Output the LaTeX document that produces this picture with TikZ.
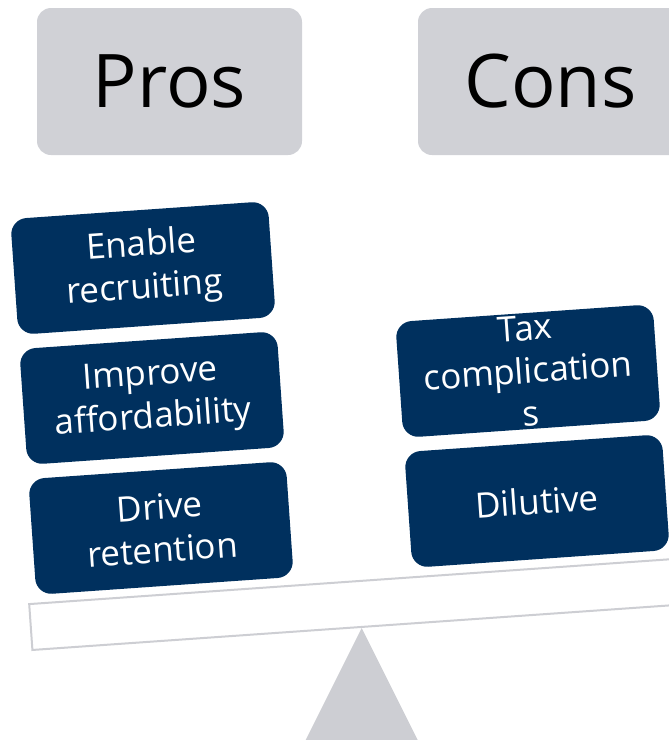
\documentclass[tikz,border=0pt]{standalone}
\usepackage{fontspec}
\setmainfont{Open Sans}

\definecolor{headgray}{HTML}{D0D1D6}
\definecolor{beamgray}{HTML}{CDCED3}
\definecolor{navy}{HTML}{00305E}

\tikzset{
  header/.style={fill=headgray, rounded corners=14pt,
    minimum width=265pt, minimum height=147pt,
    font=\fontsize{74}{80}\selectfont},
  item/.style={fill=navy, rounded corners=16pt, rotate=4,
    minimum width=258pt, minimum height=116pt},
  itemtext/.style={text=white, align=center, rotate=4,
    font=\fontsize{35}{43}\selectfont},
  beam/.style={draw=beamgray, line width=2pt, fill=white, rotate=4,
    minimum width=660pt, minimum height=46pt},
}

\begin{document}
\begin{tikzpicture}[x=1pt,y=-1pt]

\useasboundingbox (0,0) rectangle (669,740);
\clip (0,0) rectangle (669,740);

% Headings
\node[header] (pros) at (169.5,81.5) {Pros};
\node[header] (cons) at (550.5,81.5) {Cons};

% Beam and fulcrum
\node[beam] (beam) at (360,604) {};
\fill[beamgray] (beam.south) -- ++(-58,116) -- ++(116,0) -- cycle;

% Pros side
\node[item] (recruit) at (143,268) {};
\node[itemtext] at (recruit.center) {Enable\\recruiting};
\node[item] (afford) at (152,398) {};
\node[itemtext] at (afford.center) {Improve\\affordability};
\node[item] (retain) at (161,528) {};
\node[itemtext] at (retain.center) {Drive\\retention};

% Cons side
\node[item] (tax) at (528,371) {};
\node[itemtext] at (tax.center) {Tax\\complication\\s};
\node[item] (dilute) at (537,501) {};
\node[itemtext] at (dilute.center) {Dilutive};

\end{tikzpicture}
\end{document}
